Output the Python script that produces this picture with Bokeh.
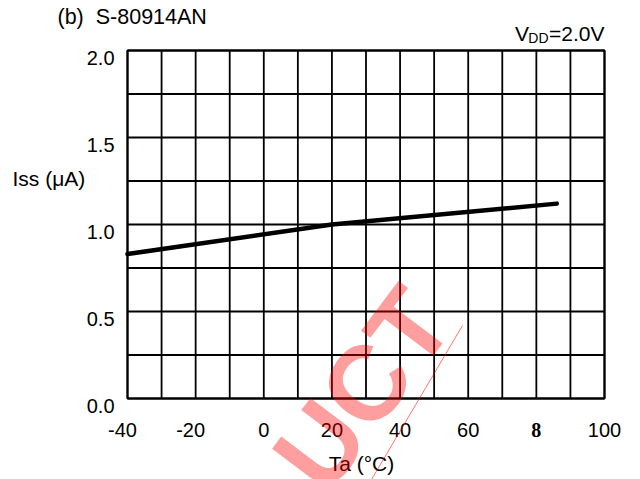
from bokeh.plotting import figure
from bokeh.core.properties import value
from bokeh.embed import file_html
from bokeh.resources import INLINE

# data
temps = [-40, 20, 86]
iss = [0.83, 1.0, 1.12]
x_ticks = [-40, -20, 0, 20, 40, 60, 80, 100]
x_tick_labels = ["-40", "-20", "0", "20", "40", "60", "8", "100"]
y_ticks = [0.0, 0.5, 1.0, 1.5, 2.0]
y_tick_labels = ["0.0", "0.5", "1.0", "1.5", "2.0"]
x_grid = list(range(-40, 101, 10))
y_grid = [0.0, 0.25, 0.5, 0.75, 1.0, 1.25, 1.5, 1.75, 2.0]
X0, X1, Y0, Y1 = -40, 100, 0.0, 2.0

# layout (pixels in the 640x479 canvas)
W, H = 640, 479
L, R, T, B = 127, 604, 50, 398
kx = (R - L) / (X1 - X0)
ky = (B - T) / (Y1 - Y0)
x_start = X0 - L / kx
x_end = X1 + (W - R) / kx
y_start = Y0 - (H - B) / ky
y_end = Y1 + T / ky

def px(cx):
    return x_start + cx / kx

def py(cy):
    return y_end - cy / ky

FONT = value("Liberation Sans")
FS = value("20px")

p = figure(width=W, height=H, x_range=(x_start, x_end), y_range=(y_start, y_end),
           output_backend="svg", toolbar_location=None,
           min_border_left=0, min_border_right=0, min_border_top=0, min_border_bottom=0)
p.axis.visible = False
p.grid.visible = False
p.outline_line_color = None
p.background_fill_color = "white"
p.border_fill_color = "white"

# grid
p.segment(x0=x_grid, y0=[Y0] * len(x_grid), x1=x_grid, y1=[Y1] * len(x_grid),
          line_color="black", line_width=1.8)
p.segment(x0=[X0] * len(y_grid), y0=y_grid, x1=[X1] * len(y_grid), y1=y_grid,
          line_color="black", line_width=1.8)
p.quad(left=[X0], right=[X1], bottom=[Y0], top=[Y1], fill_color=None,
       line_color="black", line_width=2)

# data line
p.line(temps, iss, line_color="black", line_width=4.5, line_cap="round")

# x tick labels (digits centred under the tick, minus sign hanging left)
xs = [x for x in x_ticks if x != 80]
xt = [t for x, t in zip(x_ticks, x_tick_labels) if x != 80]
xoff = [-5 if t.startswith("-") else 0 for t in xt]
p.text(x=xs, y=[Y0] * len(xs), text=xt, x_offset=xoff, y_offset=31, text_align="center",
       text_baseline="middle", text_font=FONT, text_font_size=FS, text_color="black")
i80 = x_ticks.index(80)
p.text(x=[x_ticks[i80]], y=[Y0], text=[x_tick_labels[i80]], y_offset=31,
       text_align="center", text_baseline="middle", text_font=value("Liberation Serif"),
       text_font_style="bold", text_font_size=FS, text_color="black")

# y tick labels
p.text(x=[X0] * len(y_ticks), y=y_ticks, text=y_tick_labels, x_offset=-13, y_offset=7,
       text_align="right", text_baseline="middle", text_font=FONT, text_font_size=FS,
       text_color="black")

def lab(cx, cy, text, align="left", size=value("21px")):
    p.text(x=[px(cx)], y=[py(cy)], text=[text], text_align=align, text_baseline="middle",
           text_font=FONT, text_font_size=size, text_color="black")

lab(57, 16, "(b)\u00a0 S-80914AN", size=value("21.5px"))
lab(12, 178, "Iss (\u03bcA)")
lab(361, 463, "Ta (\u00b0C)", align="center")
lab(604, 33, "=2.0V", align="right")
lab(548, 37.5, "DD", align="right", size=value("14px"))
lab(528.5, 33, "V", align="right")

# watermark
p.text(x=[px(362)], y=[py(388)], text=["UCT"], angle=53, angle_units="deg",
       text_align="center", text_baseline="middle", text_font=FONT,
       text_font_style="bold", text_font_size=value("106px"),
       text_color="red", text_alpha=0.38)
p.segment(x0=[px(462)], y0=[py(325)], x1=[px(371)], y1=[py(479)],
          line_color="red", line_alpha=0.55, line_width=1)

open("out.html", "w").write(file_html(p, INLINE))
